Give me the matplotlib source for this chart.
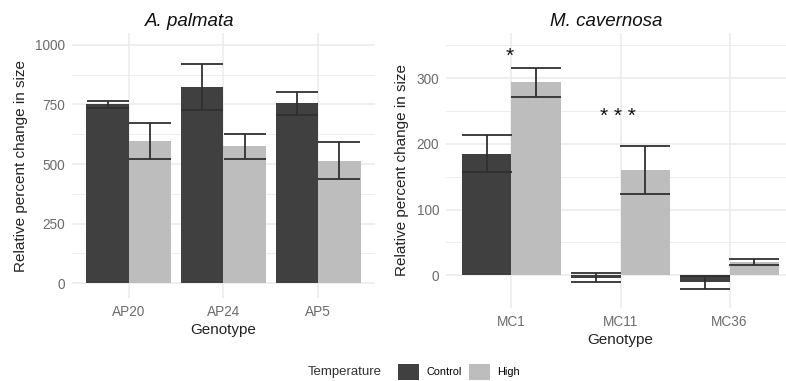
import matplotlib.pyplot as plt
import numpy as np
from matplotlib.patches import Patch

plt.rcParams['font.family'] = ['Liberation Sans', 'DejaVu Sans']

# data
ap_geno = ['AP20', 'AP24', 'AP5']
ap_control = [750, 822, 755]
ap_control_se = [15, 97, 47]
ap_high = [597, 575, 514]
ap_high_se = [75, 53, 78]

mc_geno = ['MC1', 'MC11', 'MC36']
mc_control = [185, -4, -11]
mc_control_se = [28, 7, 10]
mc_high = [294, 160, 20]
mc_high_se = [22, 37, 5]
mc_stars = ['*', '* * *', '']
mc_star_y = [333, 242, 0]

c_control = '#404040'
c_high = '#bdbdbd'
c_err = '#303030'
grid_c = '#ebebeb'
tick_c = '#6b6b6b'

W, H = 786, 381
fig = plt.figure(figsize=(W / 100, H / 100), dpi=100)


def px_axes(x0, x1, y0, y1):
    return fig.add_axes([x0 / W, 1 - y1 / H, (x1 - x0) / W, (y1 - y0) / H])


def panel(ax, geno, ctrl, ctrl_se, high, high_se, ylim, major, minor, px_per_unit):
    x = np.arange(1, len(geno) + 1)
    bw = 0.45
    cap = bw / 2 * px_per_unit * 0.72  # half bar width, in points
    ax.bar(x - bw / 2, ctrl, width=bw, color=c_control, zorder=2)
    ax.bar(x + bw / 2, high, width=bw, color=c_high, zorder=2)
    ax.errorbar(x - bw / 2, ctrl, yerr=ctrl_se, fmt='none', ecolor=c_err,
                elinewidth=1.3, capsize=cap, capthick=1.3, zorder=3)
    ax.errorbar(x + bw / 2, high, yerr=high_se, fmt='none', ecolor=c_err,
                elinewidth=1.3, capsize=cap, capthick=1.3, zorder=3)
    ax.set_xlim(0.4, len(geno) + 0.6)
    ax.set_ylim(*ylim)
    ax.set_xticks(x)
    ax.set_xticklabels(geno)
    ax.set_yticks(major)
    ax.set_yticks(minor, minor=True)
    ax.grid(True, which='major', color=grid_c, linewidth=1.1, zorder=0)
    ax.grid(True, which='minor', axis='y', color=grid_c, linewidth=0.6, zorder=0)
    ax.set_axisbelow(True)
    for s in ax.spines.values():
        s.set_visible(False)
    ax.tick_params(which='both', length=0, colors=tick_c, labelsize=9.8, pad=5)
    ax.set_xlabel('Genotype', fontsize=11, color='#222222', labelpad=3)
    ax.set_ylabel('Relative percent change in size', fontsize=11, color='#222222', labelpad=5)
    return x


ax1 = px_axes(72, 375, 33, 298)
panel(ax1, ap_geno, ap_control, ap_control_se, ap_high, ap_high_se,
      (-62, 1050), [0, 250, 500, 750, 1000], [125, 375, 625, 875], 303 / 3.2)
ax1.set_title('A. palmata', fontsize=13.5, style='italic', color='#111111', pad=5, x=0.39)

ax2 = px_axes(446, 795, 33, 308)
xs = panel(ax2, mc_geno, mc_control, mc_control_se, mc_high, mc_high_se,
           (-45, 369), [0, 100, 200, 300], [-50, 50, 150, 250, 350], 349 / 3.2)
for xi, s, yv in zip(xs, mc_stars, mc_star_y):
    if s:
        ax2.text(xi - 0.02, yv, s, ha='center', va='center', fontsize=15, color='#111111')
ax2.set_title('M. cavernosa', fontsize=13.5, style='italic', color='#111111', pad=5, x=0.46)
# the reference is cropped on the right, so the panel runs past the edge

fig.text(308 / W, 1 - 372 / H, 'Temperature', fontsize=9.5, color='#333333',
         ha='left', va='center')
handles = [Patch(facecolor=c_control), Patch(facecolor=c_high)]
fig.legend(handles, ['Control', 'High'], loc='center left',
           bbox_to_anchor=(398 / W, 1 - 372 / H), ncol=2, frameon=False,
           fontsize=7.8, handlelength=1.9, handleheight=1.9, handletextpad=0.7,
           columnspacing=0.7, borderpad=0, borderaxespad=0)

fig.savefig('out.png', dpi=100)
